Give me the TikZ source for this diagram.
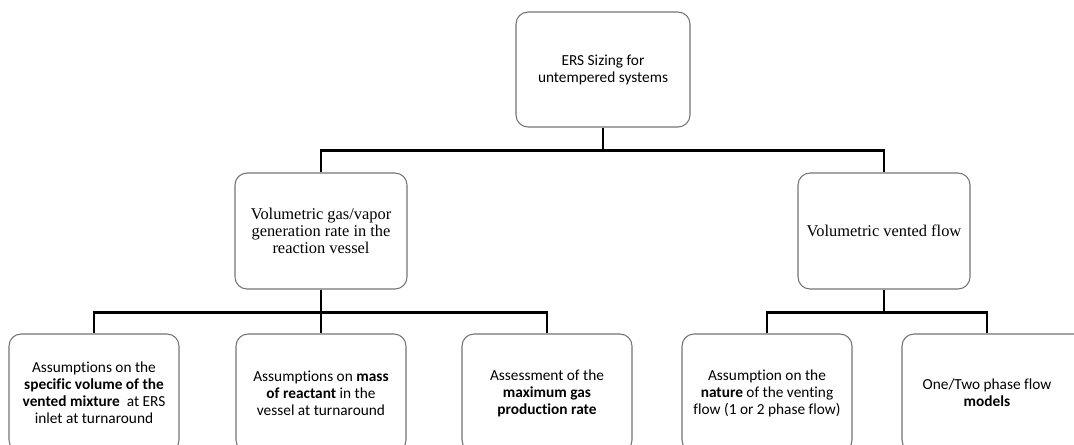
\documentclass[tikz,border=0pt]{standalone}
\usepackage{fontspec}
\setmainfont{Carlito}[Ligatures=NoCommon]
\newfontfamily\timesfont{Liberation Serif}
\begin{document}
\begin{tikzpicture}[x=0.75pt,y=-0.75pt,
  box/.style={draw=black!55,line width=0.8pt,rounded corners=9pt,
    align=center,inner sep=0pt,font=\fontsize{11.5}{12.75}\selectfont},
  topbox/.style={box,minimum width=130.5pt,minimum height=86.25pt},
  midbox/.style={box,minimum width=129pt,minimum height=87pt,
    font=\timesfont\fontsize{12.3}{13}\selectfont},
  leafbox/.style={box,minimum width=127.5pt,minimum height=88.5pt},
  link/.style={draw=black,line width=1.6pt}]
\useasboundingbox (0,0) rectangle (1074,444);
\clip (0,0) rectangle (1074,444);

% root
\node[topbox] (root) at (603,69.5) {ERS Sizing for\\untempered systems};

% second level
\node[midbox] (gen) at (321,231) {Volumetric gas/vapor\\generation rate in the\\reaction vessel};
\node[midbox] (vent) at (884,231) {Volumetric vented flow};

% leaves
\node[leafbox] (spec) at (94,393) {Assumptions on the\\\textbf{specific volume of the}\\\textbf{vented mixture}\ \ at ERS\\inlet at turnaround};
\node[leafbox] (mass) at (321,393) {Assumptions on \textbf{mass}\\\textbf{of reactant} in the\\vessel at turnaround};
\node[leafbox] (rate) at (547,393) {Assessment of the\\\textbf{maximum gas}\\\textbf{production rate}};
\node[leafbox] (nat) at (767,393) {Assumption on the\\\textbf{nature} of the venting\\flow (1 or 2 phase flow)};
\node[leafbox,minimum width=141pt] (mod) at (996,393) {};
\node[inner sep=0pt,align=center,font=\fontsize{11.5}{12.75}\selectfont] (modtext) at (987,393) {One/Two phase flow\\\textbf{models}};

% connectors
\draw[link] (root.south) -- ++(0,23) -| (gen.north);
\draw[link] (root.south) -- ++(0,23) -| (vent.north);
\draw[link] (gen.south) -- (mass.north);
\draw[link] (gen.south) -- ++(0,23) -| (spec.north);
\draw[link] (gen.south) -- ++(0,23) -| (rate.north);
\draw[link] (vent.south) -- ++(0,23) -| (nat.north);
\draw[link] (vent.south) -- ++(0,23) -| (modtext |- mod.north);
\end{tikzpicture}
\end{document}
